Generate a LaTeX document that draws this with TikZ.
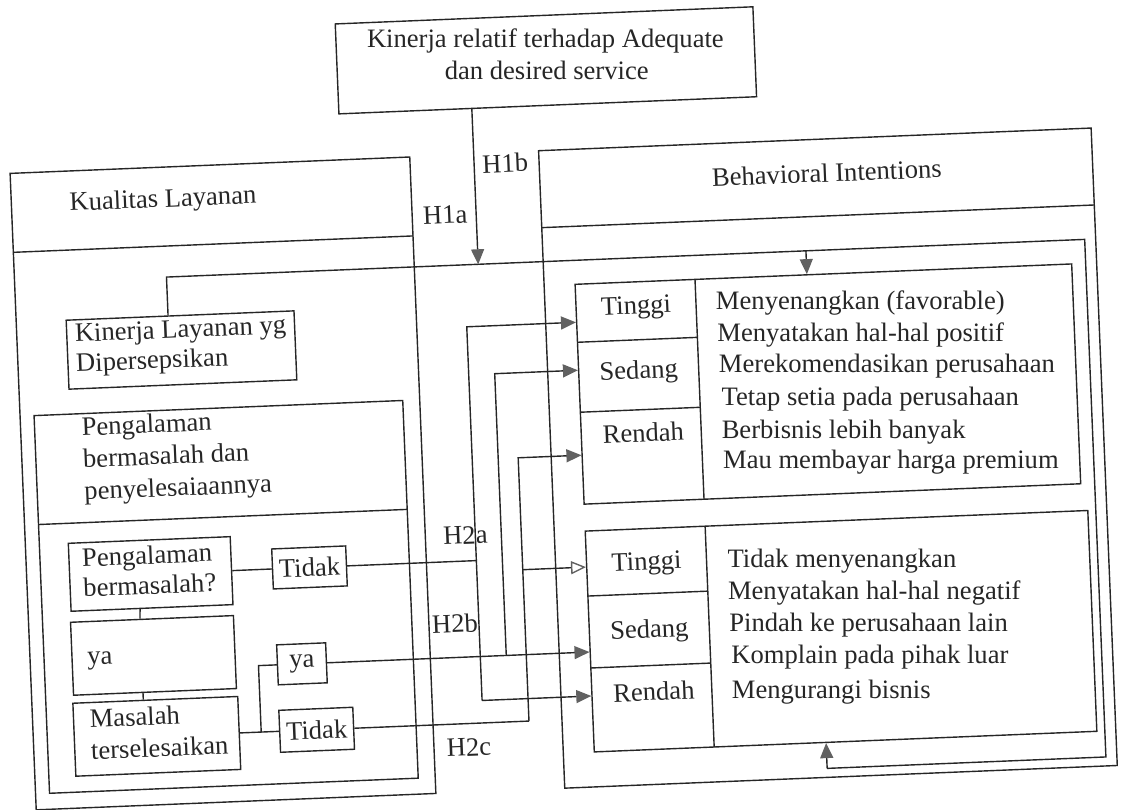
\documentclass[tikz,border=0pt]{standalone}
\usepackage{fontspec}
\setmainfont{Liberation Serif}
\usetikzlibrary{arrows.meta,calc}
\newcommand\fsz{\fontsize{26.6}{32}\selectfont}
\colorlet{ink}{black!85}
\colorlet{tipc}{black!62}
\begin{document}
\begin{tikzpicture}[x=1pt,y=-1pt,
  bx/.style={draw=ink, line width=1.4pt, inner sep=0pt, rectangle},
  tx/.style={text=ink, font=\fsz, inner sep=0pt},
  ln/.style={draw=ink, line width=1.4pt},
  arr/.style={ln, -{Triangle[length=15pt,width=13pt,color=tipc]}},
  arro/.style={ln, -{Triangle[open,length=15pt,width=13pt,color=tipc]}},
]
\useasboundingbox (0,0) rectangle (1123,809);
\begin{scope}[transform canvas={rotate around={2.35:(561,404)}}]
% ---------- top box
\node[bx, minimum width=418pt, minimum height=90pt] (top) at (560,60) {};
% ---------- Kualitas Layanan
\node[bx, minimum width=400pt, minimum height=637pt] (kual) at (220,469.5) {};
\draw[ln] (20,230) -- (420,230);
\node[tx, anchor=base west] (kualt) at (78,191) {Kualitas Layanan};
\node[bx, minimum width=228pt, minimum height=69pt] (kin) at (184,334.5) {};
\node[tx, anchor=base west] (kin1) at (78,322) {Kinerja Layanan yg};
\node[tx, anchor=base west] (kin2) at (78,352) {Dipersepsikan};
\node[bx, minimum width=369pt, minimum height=378pt] (peng) at (218.5,583) {};
\draw[ln] (34,503) -- (403,503);
\node[tx, anchor=base west] (peng1) at (81,416) {Pengalaman};
\node[tx, anchor=base west] (peng2) at (81,448) {bermasalah dan};
\node[tx, anchor=base west] (peng3) at (81,480) {penyelesaiaannya};
\node[bx, minimum width=162pt, minimum height=68pt] (pq) at (144,557) {};
\node[tx, anchor=base west] (pq1) at (76,547) {Pengalaman};
\node[tx, anchor=base west] (pq2) at (76,577) {bermasalah?};
\node[bx, tx, minimum width=74pt, minimum height=40pt] (tid1) at (303,557) {Tidak};
\node[bx, minimum width=163pt, minimum height=73pt] (yab) at (143.5,638.5) {};
\node[tx, anchor=base west] (yat) at (77,645) {ya};
\node[bx, minimum width=165pt, minimum height=73pt] (mas) at (143.5,719.5) {};
\node[tx, anchor=base west] (mas1) at (77,708) {Masalah};
\node[tx, anchor=base west] (mas2) at (77,740) {terselesaikan};
\node[bx, tx, minimum width=49pt, minimum height=40pt] (ya2) at (291.5,653) {ya};
\node[bx, tx, minimum width=74pt, minimum height=42pt] (tid2) at (303.5,719.5) {Tidak};
% left connectors
\draw[ln] (pq.east) -- (tid1.west);
\draw[ln] ([xshift=-12pt]pq.south) -- ([xshift=-12pt]yab.north);
\draw[ln] ([xshift=-12pt]yab.south) -- ([xshift=-12pt]mas.north);
\coordinate (mj) at (248,719.5);
\draw[ln] (mas.east) -- (tid2.west);
\draw[ln] (mj) |- (ya2.west);
% ---------- Behavioral Intentions
\node[bx, minimum width=553pt, minimum height=638pt] (bi) at (825.5,469) {};
\draw[ln] (549,227) -- (1102,227);
\node[tx, anchor=base] (bit) at (836,193) {Behavioral Intentions};
% upper box
\node[bx, minimum width=497pt, minimum height=220pt] (up) at (828.5,395) {};
\draw[ln] (700,285) -- (700,505);
\draw[ln] (580,343) -- (700,343);
\draw[ln] (580,413) -- (700,413);
\node[tx, anchor=base] (uT) at (640,317) {Tinggi};
\node[tx, anchor=base] (uS) at (640,382) {Sedang};
\node[tx, anchor=base] (uR) at (642,445) {Rendah};
% lower box
\node[bx, minimum width=503pt, minimum height=221pt] (lo) at (831.5,642.5) {};
\draw[ln] (700,532) -- (700,753);
\draw[ln] (580,597) -- (700,597);
\draw[ln] (580,669) -- (700,669);
\node[tx, anchor=base] (lT) at (640,573) {Tinggi};
\node[tx, anchor=base] (lS) at (640,641) {Sedang};
\node[tx, anchor=base] (lR) at (642,704) {Rendah};
% ---------- H1 connectors
\coordinate (kl0) at (172,261);
\coordinate (kr0) at (1091,261);
\coordinate (kbr) at (1091,779);
\coordinate (kbm) at (812,779);
\coordinate (kt) at (812,261);
\coordinate (h1) at (484,261);
\draw[ln] (kl0 |- kin.north) -- (kl0) -- (kr0) -- (kbr) -- (kbm);
\draw[arr] (kbm) -- (kbm |- lo.south);
\draw[arr] (kt) -- (kt |- up.north);
\draw[arr] (h1 |- top.south) -- (h1);
% ---------- H2 connectors
\coordinate (a1) at (470,323);
\coordinate (a2) at (470,697);
\draw[ln] (tid1.east) -- (tid1.east -| a1);
\draw[arr] (a2) -- (a1) -- (a1 -| up.west);
\draw[arr] (a2) -- (a2 -| lo.west);
\coordinate (b1) at (496,371);
\draw[arr] (ya2.east) -- (ya2.east -| lo.west);
\draw[arr] (ya2.east -| b1) -- (b1) -- (b1 -| up.west);
\coordinate (c1) at (516,456);
\coordinate (c2) at (516,568);
\draw[ln] (tid2.east) -- (tid2.east -| c1);
\draw[arr] (tid2.east -| c1) -- (c1) -- (c1 -| up.west);
\draw[arro] (c2) -- (c2 -| lo.west);
% ---------- labels
\node[tx, anchor=base] (H1b) at (515,170) {H1b};
\node[tx, anchor=base] (H1a) at (453,219) {H1a};
\node[tx, anchor=base] (H2a) at (460,540) {H2a};
\node[tx, anchor=base] (H2b) at (446,628) {H2b};
\node[tx, anchor=base] (H2c) at (455,752) {H2c};
\end{scope}
% long text lines: positions follow the tilt, glyphs stay level
\begin{scope}[rotate around={2.35:(561,404)}]
\node[tx, anchor=base] (top1) at (560,47) {Kinerja relatif terhadap Adequate};
\node[tx, anchor=base] (top2) at (560,79) {dan desired service};
\node[tx, anchor=base] (u1) at (864,322) {Menyenangkan (favorable)};
\node[tx, anchor=base] (u2) at (863,354) {Menyatakan hal-hal positif};
\node[tx, anchor=base] (u3) at (888,386) {Merekomendasikan perusahaan};
\node[tx, anchor=base] (u4) at (870,418) {Tetap setia pada perusahaan};
\node[tx, anchor=base] (u5) at (842,450) {Berbisnis lebih banyak};
\node[tx, anchor=base] (u6) at (888,482) {Mau membayar harga premium};
\node[tx, anchor=base] (l1) at (835,579) {Tidak menyenangkan};
\node[tx, anchor=base] (l2) at (866,612) {Menyatakan hal-hal negatif};
\node[tx, anchor=base] (l3) at (859,644) {Pindah ke perusahaan lain};
\node[tx, anchor=base] (l4) at (859,676) {Komplain pada pihak luar};
\node[tx, anchor=base] (l5) at (819,709) {Mengurangi bisnis};
\end{scope}
\end{tikzpicture}
\end{document}
